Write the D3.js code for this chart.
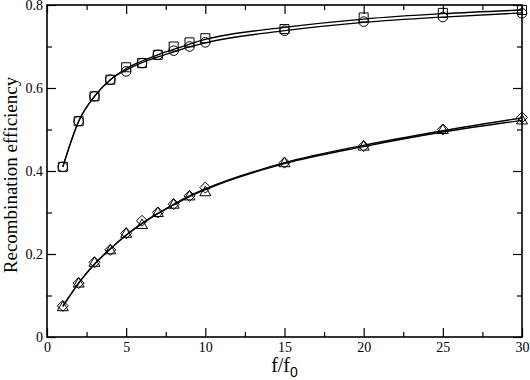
<!DOCTYPE html>
<html>
<head>
<meta charset="utf-8">
<script src="https://cdn.jsdelivr.net/npm/d3@7"></script>
<style>
  body { margin: 0; background: #fff; }
</style>
</head>
<body>
<script>
const SERIF = "'Liberation Serif', 'DejaVu Serif', 'Times New Roman', serif"

// f / f0 values where the runs were done
const xs = [1, 2, 3, 4, 5, 6, 7, 8, 9, 10, 15, 20, 25, 30]

// upper pair (symbols)
const squares = [0.41, 0.52, 0.58, 0.62, 0.65, 0.66, 0.68, 0.70, 0.71, 0.72, 0.742, 0.770, 0.781, 0.788]
const circles = [0.41, 0.52, 0.58, 0.62, 0.64, 0.66, 0.68, 0.69, 0.70, 0.71, 0.738, 0.760, 0.771, 0.780]
// lower pair (symbols)
const diamonds  = [0.075, 0.13, 0.18, 0.21, 0.25, 0.28, 0.30, 0.32, 0.34, 0.36, 0.42, 0.46, 0.50, 0.529]
const triangles = [0.073, 0.13, 0.18, 0.21, 0.25, 0.271, 0.30, 0.32, 0.34, 0.35, 0.42, 0.46, 0.50, 0.523]

// fitted curves at the same x's
const squaresFit   = [0.41, 0.52, 0.58, 0.62, 0.647, 0.665, 0.68, 0.693, 0.706, 0.717, 0.746, 0.766, 0.779, 0.788]
const circlesFit   = [0.41, 0.52, 0.58, 0.62, 0.643, 0.661, 0.675, 0.687, 0.699, 0.709, 0.738, 0.758, 0.771, 0.781]
const diamondsFit  = [0.075, 0.13, 0.176, 0.213, 0.246, 0.274, 0.298, 0.32, 0.34, 0.357, 0.42, 0.462, 0.497, 0.528]
const trianglesFit = [0.073, 0.13, 0.175, 0.212, 0.245, 0.273, 0.297, 0.318, 0.338, 0.355, 0.418, 0.459, 0.494, 0.522]

const xTicks = [0, 5, 10, 15, 20, 25, 30]
const xMinor = [2.5, 7.5, 12.5, 17.5, 22.5, 27.5]
const yTicks = [0, 0.2, 0.4, 0.6, 0.8]
const yMinor = [0.1, 0.3, 0.5, 0.7]

const width = 530, height = 380
const margin = { top: 5, right: 8, bottom: 43, left: 47 }
const innerW = width - margin.left - margin.right
const innerH = height - margin.top - margin.bottom

const svg = d3.select("body").append("svg")
  .attr("width", width).attr("height", height)

const g = svg.append("g").attr("transform", `translate(${margin.left},${margin.top})`)

const x = d3.scaleLinear().domain([0, 30]).range([0, innerW])
const y = d3.scaleLinear().domain([0, 0.8]).range([innerH, 0])

const yFmt = d => d === 0 ? "0" : d3.format(".1f")(d)

function styleAxis(sel) {
  sel.attr("font-family", SERIF)
  sel.select(".domain").remove()
  sel.selectAll("line").attr("stroke", "#000").attr("stroke-width", 1.2)
  sel.selectAll("text").attr("font-size", 14).attr("font-family", SERIF).attr("fill", "#000")
}

// bottom / top
g.append("g").attr("transform", `translate(0,${innerH})`)
  .call(d3.axisBottom(x).tickValues(xTicks).tickSize(-9).tickPadding(5).tickFormat(d3.format("d")))
  .call(styleAxis)
g.append("g").attr("transform", `translate(0,${innerH})`)
  .call(d3.axisBottom(x).tickValues(xMinor).tickSize(-5).tickFormat(""))
  .call(styleAxis)
g.append("g")
  .call(d3.axisTop(x).tickValues(xTicks).tickSize(-9).tickFormat(""))
  .call(styleAxis)
g.append("g")
  .call(d3.axisTop(x).tickValues(xMinor).tickSize(-5).tickFormat(""))
  .call(styleAxis)
// left / right
g.append("g")
  .call(d3.axisLeft(y).tickValues(yTicks).tickSize(-9).tickPadding(4).tickFormat(yFmt))
  .call(styleAxis)
g.append("g")
  .call(d3.axisLeft(y).tickValues(yMinor).tickSize(-5).tickFormat(""))
  .call(styleAxis)
g.append("g").attr("transform", `translate(${innerW},0)`)
  .call(d3.axisRight(y).tickValues(yTicks).tickSize(-9).tickFormat(""))
  .call(styleAxis)
g.append("g").attr("transform", `translate(${innerW},0)`)
  .call(d3.axisRight(y).tickValues(yMinor).tickSize(-5).tickFormat(""))
  .call(styleAxis)

// frame
g.append("rect")
  .attr("width", innerW).attr("height", innerH)
  .attr("fill", "none").attr("stroke", "#000").attr("stroke-width", 1.6)

// fitted curves
const line = d3.line()
  .x((d, i) => x(xs[i]))
  .y(d => y(d))
  .curve(d3.curveMonotoneX)

;[squaresFit, circlesFit, diamondsFit, trianglesFit].forEach(vals => {
  g.append("path")
    .attr("d", line(vals))
    .attr("fill", "none").attr("stroke", "#000").attr("stroke-width", 1.3)
})

// symbols
const series = [
  { vals: squares,   sym: "square" },
  { vals: circles,   sym: "circle" },
  { vals: diamonds,  sym: "diamond" },
  { vals: triangles, sym: "triangle" }
]

function symPath(sym) {
  if (sym === "square") return "M-4.5,-4.5H4.5V4.5H-4.5Z"
  if (sym === "circle") return d3.arc()({ innerRadius: 0, outerRadius: 4.8, startAngle: 0, endAngle: 2 * Math.PI })
  if (sym === "diamond") return "M0,-5.5L5.5,0L0,5.5L-5.5,0Z"
  return "M0,-5.5L5.5,4L-5.5,4Z"
}

series.forEach(s => {
  g.append("g").selectAll("path")
    .data(s.vals)
    .join("path")
    .attr("transform", (d, i) => `translate(${x(xs[i])},${y(d)})`)
    .attr("d", symPath(s.sym))
    .attr("fill", "none").attr("stroke", "#000").attr("stroke-width", 1)
})

// axis titles
svg.append("text")
  .attr("transform", `translate(17,${margin.top + y(0.4) + 4}) rotate(-90)`)
  .attr("text-anchor", "middle")
  .attr("font-family", SERIF)
  .attr("font-size", 19)
  .text("Recombination efficiency")

const xt = svg.append("text")
  .attr("x", margin.left + innerW / 2)
  .attr("y", 372)
  .attr("text-anchor", "middle")
  .attr("font-family", SERIF)
  .attr("font-size", 20)
xt.append("tspan").text("f/f")
xt.append("tspan").attr("dy", 5).attr("font-size", 14)
  .attr("font-family", "'Liberation Sans', 'DejaVu Sans', sans-serif").text("0")
</script>
</body>
</html>
